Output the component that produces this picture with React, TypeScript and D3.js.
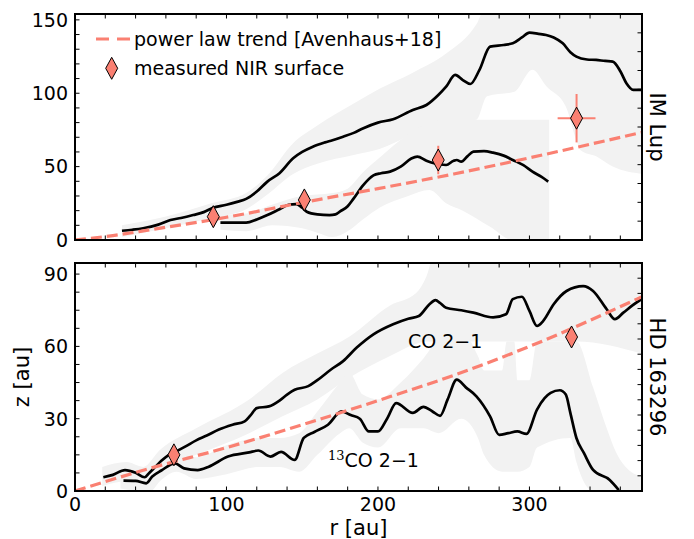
import React from 'react';
import * as d3 from 'd3';

// ---------------- DATA ----------------
// IM Lup (top panel)
const imUpperR = [31, 38, 45, 55, 63, 70, 78, 85, 91, 100, 107, 113, 120, 127, 135, 144, 150, 157, 165, 170, 177, 184, 190, 200, 210, 223, 232, 240, 245, 251, 256, 261, 267, 274, 283, 289, 295, 300, 306, 311, 316, 322, 327, 331, 338, 344, 350, 355, 360, 364, 368.5, 374];
const imUpperZ = [6.3, 7, 8, 10.5, 13.6, 15, 17, 19, 22, 24, 26, 28, 33, 39.8, 45.5, 55.7, 60, 63.6, 66.5, 68, 70.4, 73, 76, 80, 82.3, 88.6, 92, 99, 104.5, 112.5, 109, 106.3, 115.9, 131.8, 132.9, 134, 138, 141.3, 140.5, 139.7, 138, 134, 128, 125, 123, 122.7, 122, 121.6, 115, 106.8, 102.3, 102.3];
const imLowerR = [96, 105, 113, 120, 127, 135, 141, 146, 150, 153, 160, 168, 172, 175, 180, 184, 190, 197, 202, 208, 215, 222, 226, 232, 237, 245, 250, 252, 255, 259, 263, 270, 276, 283, 289, 296, 302, 308, 312.4];
const imLowerZ = [11.8, 11.8, 11.8, 14, 17, 21, 24, 24.5, 22, 19.3, 17.5, 17, 17.5, 19.5, 23, 28.4, 37, 44, 45.5, 46.6, 50, 55.5, 56.8, 54, 52.3, 51.1, 54, 54.5, 53.4, 57, 60.2, 60.5, 59.5, 57.5, 54.5, 51, 46.6, 43, 39.8];
const imUpperBandR = [31, 60, 90, 113, 127, 144, 160, 184, 201, 223, 245, 265, 272, 290, 302, 311, 324, 331, 334, 344, 355, 374];
const imUpperBandHi = [10, 16, 25, 32, 44, 66, 78, 93, 103, 114, 127, 147, 160, 160, 160, 160, 160, 160, 160, 160, 160, 160];
const imUpperBandLo = [2, 8, 15, 21, 31, 45, 52, 58, 62, 72, 80, 82, 98, 101, 116, 105, 91, 68, 61, 57, 50, 45];
const imLowerBandR = [96, 113, 130, 150, 160, 170, 180, 190, 201, 220, 234, 245, 256, 274, 289, 313];
const imLowerBandHi = [17, 18, 24, 30, 31, 32, 35, 46, 56, 72, 80, 82, 82, 82, 82, 82];
const imLowerBandLo = [7, 6, 10, 8, 5, 2, 6, 14, 22, 30, 34, 25, 20, 9, 0, 0];
const imTrendR = [0, 25, 50, 100, 150, 200, 250, 300, 375];
const imTrendZ = [0, 3, 7, 15.5, 25.5, 35, 45, 56, 73.5];
const imPointR = [91.3, 151.4, 239.8, 331.1];
const imPointZ = [15.9, 27.3, 54.5, 83];
const imPointRErr = [3, 3, 3, 12.5];
const imPointZErr = [4, 4, 9.7, 16.5];

// HD 163296 (bottom panel)
const hdCOR = [18.7, 25, 33, 40, 46, 49, 53, 57, 62, 67, 73, 80, 87, 95, 104, 112, 116, 120, 128, 135, 140, 145, 154, 160, 169, 177, 186, 197, 210, 220, 227, 234, 238, 241, 245, 255, 263, 276, 284.5, 289, 295, 300, 305, 309, 316, 324.5, 335.5, 342, 351, 356.4, 362, 368, 374];
const hdCOZ = [5.7, 6.7, 8.7, 7.6, 5.7, 7.5, 10, 12.5, 15, 16.5, 18.5, 21, 23, 25.5, 27.5, 28.9, 31.5, 34.4, 35.1, 37.5, 40, 42, 43.5, 46, 50.4, 53.9, 59.5, 65, 69.2, 71.5, 72.6, 77.5, 79.2, 78, 76, 75, 74, 72, 73.3, 79.6, 80.6, 74.7, 68.5, 70.5, 77.5, 83, 85, 83, 75.4, 71.3, 74, 77, 79.6];
const hd13R = [32, 40, 47, 51, 57, 66, 72, 81, 88, 101, 115, 121, 129, 136, 145, 151, 158, 167, 176, 182, 188, 194, 200, 206, 212, 223, 230, 236, 241, 246, 252, 258, 265, 274, 280, 286, 292, 298, 305, 310, 314, 320, 324, 327, 331, 336, 342, 353, 359];
const hd13Z = [4.3, 4.2, 3.2, 6, 8.5, 11.5, 9.4, 8.7, 10, 14.3, 16, 16.8, 14.3, 16.2, 12.9, 22, 24.5, 27.5, 33, 31.5, 30, 24.7, 24.7, 30, 36.5, 32.4, 34.9, 33, 31.2, 38, 46.2, 43, 39.3, 31, 23.3, 24, 24.7, 23.7, 33.8, 38.5, 40.7, 41.8, 40, 32.4, 22, 15.7, 8.75, 4.6, 0.4];
const hdCOBandR = [18, 34, 45, 56, 80, 115, 137, 160, 181, 208, 225, 232, 238, 300, 331, 374];
const hdCOBandHi = [10, 12, 10, 17, 26, 38, 49, 57, 64, 77, 82, 89, 100, 100, 100, 100];
const hdCOBandLo = [2, 4, 2, 9, 15, 24, 31, 38, 47, 56, 61, 62, 62, 62, 62, 57];
const hd13BandR = [30, 45, 50, 56, 67, 80, 100, 122, 135, 148, 160, 175, 181, 190, 200, 215, 230, 240, 255, 266, 270, 282, 285, 290, 292, 300, 305, 327, 331, 342, 351, 358, 365, 374];
const hd13BandHi = [7, 7, 6, 11, 17, 14, 19, 22, 22, 24, 33, 45, 49, 40, 38, 45, 55, 63, 66, 56, 50, 50, 62, 62, 46, 46, 62, 62, 62, 43, 26, 15, 9, 6];
const hd13BandLo = [1, 0, 0, 4, 8, 5, 7, 10, 10, 8, 15, 24, 26, 20, 18, 26, 26, 24, 30, 22, 15, 8, 8, 8, 8, 10, 18, 22, 12, 0, 0, 0, 0, 0];
const hdTrendR = [0, 50, 100, 150, 200, 250, 300, 375];
const hdTrendZ = [0, 9.5, 18, 27.5, 37.5, 48, 60, 80.8];
const hdPointR = [65.3, 327.8];
const hdPointZ = [15, 63.9];
const hdPointRErr = [0, 0];
const hdPointZErr = [0, 0];

// ticks
const xMinorTicks = [0, 20, 40, 60, 80, 100, 120, 140, 160, 180, 200, 220, 240, 260, 280, 300, 320, 340, 360];
const xTickLabels = [0, 100, 200, 300];
const topYMinor = [0, 10, 20, 30, 40, 50, 60, 70, 80, 90, 100, 110, 120, 130, 140, 150];
const topYLabels = [0, 50, 100, 150];
const botYMinor = [0, 7.5, 15, 22.5, 30, 37.5, 45, 52.5, 60, 67.5, 75, 82.5, 90];
const botYLabels = [0, 30, 60, 90];
const topTwinTicks = [0.1, 0.2, 0.3, 0.4, 0.5, 0.6, 0.7, 0.8, 0.9, 1.0, 1.1];
const botTwinTicks = [0.1, 0.2, 0.3, 0.4, 0.5, 0.6, 0.7, 0.8, 0.9, 1.0, 1.1, 1.2, 1.3, 1.4];

// ---------------- LAYOUT ----------------
const W = 694, H = 539;
const X0 = 75, X1 = 642;
const FONT = 'DejaVu Sans, sans-serif';
const SALMON = '#fa8072';
const GRAY = '#f2f2f2';
const TICK = 4.5;
const FS = 19;
const DASH = '11,5';

const x = d3.scaleLinear().domain([0, 374.3]).range([X0, X1]);

const zip = (r: number[], z: number[]) => r.map((v, i) => ({ r: v, z: z[i] }));
const zipBand = (r: number[], lo: number[], hi: number[]) => r.map((v, i) => ({ r: v, lo: lo[i], hi: hi[i] }));

type PanelProps = {
  id: string;
  y0: number; y1: number; zmax: number;
  bands: { r: number; lo: number; hi: number }[][];
  lines: { r: number; z: number }[][];
  trend: { r: number; z: number }[];
  pts: { r: number; z: number; re: number; ze: number }[];
  yMinor: number[]; yLabels: number[];
  twinDomain: [number, number]; twinTicks: number[];
  xLabels: boolean;
  title: string;
  children?: React.ReactNode;
};

function Panel(p: PanelProps) {
  const y = d3.scaleLinear().domain([0, p.zmax]).range([p.y1, p.y0]);
  const yt = d3.scaleLinear().domain(p.twinDomain).range([p.y1, p.y0]);
  const area = d3.area<{ r: number; lo: number; hi: number }>()
    .x(d => x(d.r)).y0(d => y(d.lo)).y1(d => y(d.hi)).curve(d3.curveMonotoneX);
  const line = d3.line<{ r: number; z: number }>()
    .x(d => x(d.r)).y(d => y(d.z)).curve(d3.curveMonotoneX);
  const diamond = (cx: number, cy: number) => `M${cx},${cy - 11}L${cx + 6},${cy}L${cx},${cy + 11}L${cx - 6},${cy}Z`;
  return (
    <g>
      <defs>
        <clipPath id={p.id}>
          <rect x={X0} y={p.y0} width={X1 - X0} height={p.y1 - p.y0} />
        </clipPath>
      </defs>
      <g clipPath={`url(#${p.id})`}>
        {p.bands.map((b, i) => <path key={'b' + i} d={area(b) || ''} fill={GRAY} stroke="none" />)}
        {p.lines.map((l, i) => <path key={'l' + i} d={line(l) || ''} fill="none" stroke="#000" strokeWidth={2.7} strokeLinejoin="round" />)}
        <path d={line(p.trend) || ''} fill="none" stroke={SALMON} strokeWidth={3.2} strokeDasharray={DASH} />
      </g>
      {p.pts.map((d, i) => (
        <g key={'e' + i}>
          {d.ze > 0 && <line x1={x(d.r)} x2={x(d.r)} y1={y(d.z - d.ze)} y2={y(d.z + d.ze)} stroke={SALMON} strokeWidth={2} />}
          {d.re > 0 && <line x1={x(d.r - d.re)} x2={x(d.r + d.re)} y1={y(d.z)} y2={y(d.z)} stroke={SALMON} strokeWidth={2} />}
        </g>
      ))}
      {p.pts.map((d, i) => <path key={'d' + i} d={diamond(x(d.r), y(d.z))} fill={SALMON} stroke="#000" strokeWidth={1} />)}
      {p.children}
      {xMinorTicks.map(t => (
        <g key={'xt' + t}>
          <line x1={x(t)} x2={x(t)} y1={p.y1} y2={p.y1 - TICK} stroke="#000" strokeWidth={1} />
          <line x1={x(t)} x2={x(t)} y1={p.y0} y2={p.y0 + TICK} stroke="#000" strokeWidth={1} />
        </g>
      ))}
      {p.yMinor.map(t => (
        <line key={'yt' + t} x1={X0} x2={X0 + TICK} y1={y(t)} y2={y(t)} stroke="#000" strokeWidth={1} />
      ))}
      {p.twinTicks.map(t => (
        <line key={'tt' + t} x1={X1} x2={X1 - TICK} y1={yt(t)} y2={yt(t)} stroke="#000" strokeWidth={1} />
      ))}
      <rect x={X0} y={p.y0} width={X1 - X0} height={p.y1 - p.y0} fill="none" stroke="#000" strokeWidth={2} />
      {p.yLabels.map(t => (
        <text key={'yl' + t} x={X0 - 7} y={y(t)} dy="0.36em" textAnchor="end" fontSize={FS} fontFamily={FONT}>{t}</text>
      ))}
      {p.xLabels && xTickLabels.map(t => (
        <text key={'xl' + t} x={x(t)} y={p.y1 + 20} textAnchor="middle" fontSize={FS} fontFamily={FONT}>{t}</text>
      ))}
      <text transform={`translate(${X1 + 16},${(p.y0 + p.y1) / 2}) rotate(90)`} textAnchor="middle" dy="0.36em" fontSize={21} fontFamily={FONT}>{p.title}</text>
    </g>
  );
}

export default function App() {
  const topPts = imPointR.map((r, i) => ({ r, z: imPointZ[i], re: imPointRErr[i], ze: imPointZErr[i] }));
  const botPts = hdPointR.map((r, i) => ({ r, z: hdPointZ[i], re: hdPointRErr[i], ze: hdPointZErr[i] }));
  return (
    <svg width={W} height={H} style={{ position: 'absolute', left: 0, top: 0, background: '#fff' }}>
      <Panel
        id="clipTop" y0={14} y1={240} zmax={154}
        bands={[zipBand(imUpperBandR, imUpperBandLo, imUpperBandHi), zipBand(imLowerBandR, imLowerBandLo, imLowerBandHi)]}
        lines={[zip(imUpperR, imUpperZ), zip(imLowerR, imLowerZ)]}
        trend={zip(imTrendR, imTrendZ)}
        pts={topPts}
        yMinor={topYMinor} yLabels={topYLabels}
        twinDomain={[0, 1.2]} twinTicks={topTwinTicks}
        xLabels={false}
        title="IM Lup"
      >
        <line x1={96} x2={131} y1={39} y2={39} stroke={SALMON} strokeWidth={3.2} strokeDasharray="13,8" />
        <text x={134} y={46} fontSize={FS} fontFamily={FONT}>power law trend [Avenhaus+18]</text>
        <path d="M111.7,57.3L117.7,68.3L111.7,79.3L105.7,68.3Z" fill={SALMON} stroke="#000" strokeWidth={1} />
        <text x={134} y={75} fontSize={FS} fontFamily={FONT}>measured NIR surface</text>
      </Panel>
      <Panel
        id="clipBot" y0={263} y1={491} zmax={94.6}
        bands={[zipBand(hdCOBandR, hdCOBandLo, hdCOBandHi), zipBand(hd13BandR, hd13BandLo, hd13BandHi)]}
        lines={[zip(hdCOR, hdCOZ), zip(hd13R, hd13Z)]}
        trend={zip(hdTrendR, hdTrendZ)}
        pts={botPts}
        yMinor={botYMinor} yLabels={botYLabels}
        twinDomain={[0, 1.5]} twinTicks={botTwinTicks}
        xLabels={true}
        title="HD 163296"
      >
        <text x={408} y={348} fontSize={FS} fontFamily={FONT}>CO 2−1</text>
        <text x={328} y={467} fontFamily={FONT}>
          <tspan fontSize={13} dy={-7} fontFamily="DejaVu Serif, serif">13</tspan>
          <tspan fontSize={FS} dy={7}>CO 2−1</tspan>
        </text>
      </Panel>
      <text transform="translate(21,377) rotate(-90)" textAnchor="middle" dy="0.36em" fontSize={21} fontFamily={FONT}>z [au]</text>
      <text x={358.5} y={535} textAnchor="middle" fontSize={21} fontFamily={FONT}>r [au]</text>
    </svg>
  );
}
